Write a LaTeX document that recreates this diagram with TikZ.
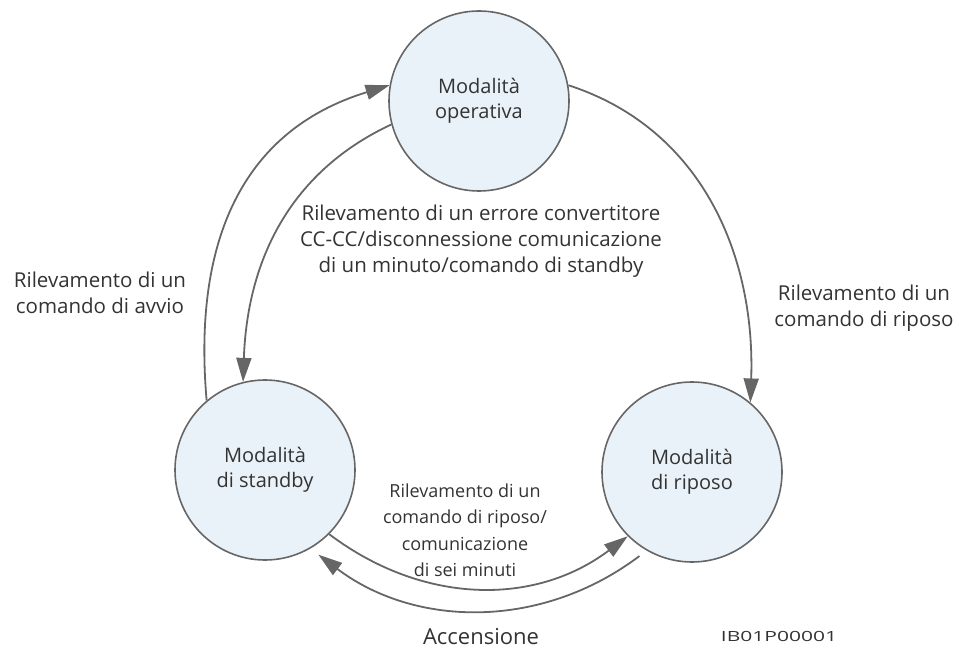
\documentclass[tikz,border=0pt]{standalone}
\usepackage{fontspec}
\setmainfont{Open Sans}
\usetikzlibrary{arrows.meta,positioning}
\definecolor{modefill}{RGB}{234,242,249}
\definecolor{linegray}{RGB}{102,102,102}
\definecolor{textgray}{RGB}{51,51,51}
\tikzset{mode/.style={circle,minimum size=180pt,inner sep=0pt,line width=1.6pt,draw=linegray,fill=modefill,align=center,font=\fontsize{20}{25}\selectfont,text=textgray}}
\tikzset{note/.style={align=center,font=\fontsize{20.5}{26}\selectfont,text=textgray}}
\tikzset{trans/.style={line width=1.8pt,draw=linegray,-{Triangle[length=24pt,width=15pt]}}}

\begin{document}
\begin{tikzpicture}[x=1pt,y=1pt]
  \useasboundingbox (0,0) rectangle (959,-655);
  \node[mode] (oper) at (479,-101) {Modalità\\operativa};
  \node[mode] (stby) at (265,-470) {Modalità\\di standby};
  \node[mode] (ripo) at (692,-472) {Modalità\\di riposo};
  \draw[trans] (oper.10) to[out=-18,in=88] (ripo.50);
  \draw[trans] (stby.130) to[out=95,in=197,looseness=1.1] (oper.170);
  \draw[trans] (oper.195) to[out=205,in=88] (stby.104);
  \draw[trans] (stby.-45) to[out=-37,in=217] (ripo.225);
  \draw[trans,shorten <=9pt,shorten >=10pt] (ripo.-120) to[out=217,in=-37] (stby.-60);
  \node[note] (err) at (481,-241) {Rilevamento di un errore convertitore\\CC-CC/disconnessione comunicazione\\di un minuto/comando di standby};
  \node[note] (avvio) at (100,-293) {Rilevamento di un\\comando di avvio};
  \node[note] (riposo) at (864,-308) {Rilevamento di un\\comando di riposo};
  \node[note,font=\fontsize{18}{26.5}\selectfont] (sei) at (465,-530) {Rilevamento di un\\comando di riposo/\\comunicazione\\di sei minuti};
  \node[note,font=\fontsize{22}{26}\selectfont] (acc) at (481,-637) {Accensione};
  \node[note,font=\fontsize{14}{16}\selectfont] (code) at (779,-636) {\scalebox{1.5}[1]{IB01P00001}};
\end{tikzpicture}
\end{document}
